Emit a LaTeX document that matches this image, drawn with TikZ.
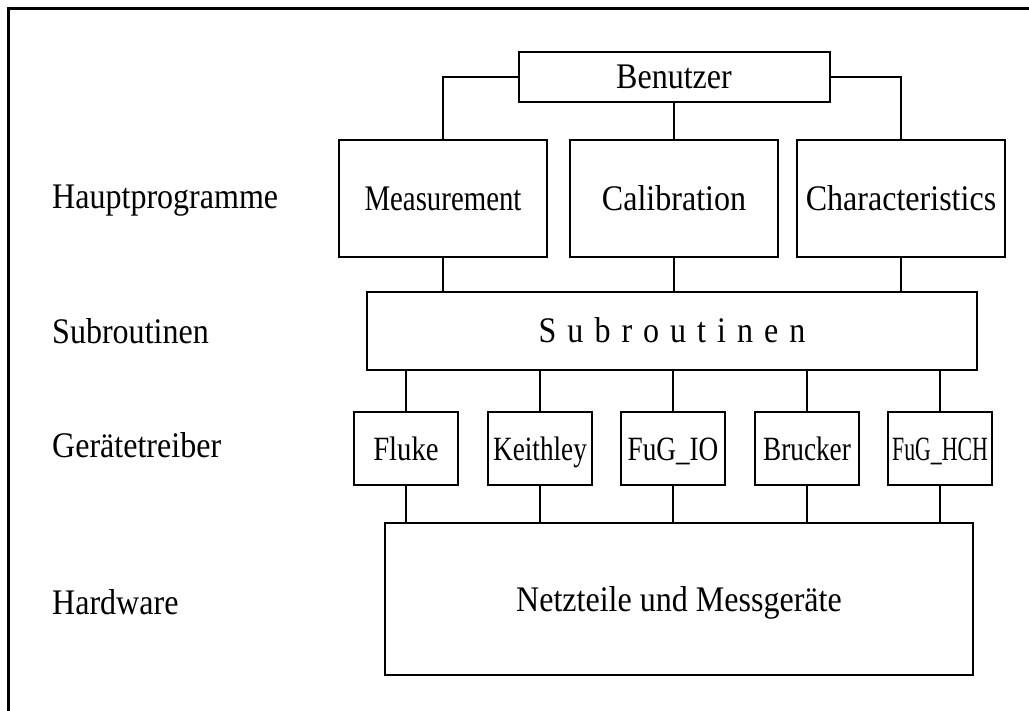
\documentclass[tikz,border=0pt]{standalone}
\usepackage{fontspec}
\setmainfont[FakeStretch=0.89]{Liberation Serif}
\newcommand\lsp{\hspace{11pt}}
\begin{document}
\begin{tikzpicture}[x=1pt,y=-1pt,
  bigfont/.style={font=\fontsize{36}{42}\selectfont},
  box/.style={draw,line width=2pt,inner sep=0pt,text height=24pt,text depth=0pt,align=center,bigfont},
  mainbox/.style={box,minimum width=208pt,minimum height=117pt},
  drvbox/.style={box,minimum width=104pt,minimum height=73pt,font=\fontsize{34}{40}\selectfont},
  conn/.style={line width=1.8pt},
  lab/.style={anchor=base west,inner sep=0pt,bigfont}]
\useasboundingbox (0,0) rectangle (1029,711);
\fill[white] (0,0) rectangle (1029,711);
\draw[line width=3pt] (8,711) -- (8,9) -- (1029,9);

% left labels
\node[lab] (l1) at (52,209) {Hauptprogramme};
\node[lab] (l2) at (52,344) {Subroutinen};
\node[lab] (l3) at (52,457) {Gerätetreiber};
\node[lab] (l4) at (52,614) {Hardware};

% boxes
\node[box,minimum width=311pt,minimum height=50pt] (ben) at (674,77) {Benutzer};
\node[mainbox] (meas) at (443,198.5) {\scalebox{0.9}[1]{Measurement}};
\node[mainbox] (cal) at (674,198.5) {Calibration};
\node[mainbox] (char) at (901,198.5) {Characteristics};
\node[box,minimum width=610pt,minimum height=78pt] (sub) at (672,331)
  {S\lsp u\lsp b\lsp r\lsp o\lsp u\lsp t\lsp i\lsp n\lsp e\lsp n};
\node[drvbox] (d1) at (406,448.5) {\scalebox{0.95}[1]{Fluke}};
\node[drvbox] (d2) at (540,448.5) {\scalebox{0.9}[1]{Keithley}};
\node[drvbox] (d3) at (673,448.5) {\scalebox{0.9}[1]{FuG\_IO}};
\node[drvbox] (d4) at (807,448.5) {\scalebox{0.9}[1]{Brucker}};
\node[drvbox] (d5) at (940,448.5) {\scalebox{0.72}[1]{FuG\_HCH}};
\node[box,minimum width=588pt,minimum height=152pt] (hw) at (679,599) {Netzteile und Messgeräte};

% connectors
\draw[conn] (ben.west) -| (meas.north);
\draw[conn] (ben.east) -| (char.north);
\draw[conn] (ben.south) -- (cal.north);
\foreach \b in {meas,cal,char} \draw[conn] (\b.south) -- (\b.south |- sub.north);
\foreach \d in {d1,d2,d3,d4,d5} {
  \draw[conn] (\d.north |- sub.south) -- (\d.north);
  \draw[conn] (\d.south) -- (\d.south |- hw.north);
}
\end{tikzpicture}
\end{document}
